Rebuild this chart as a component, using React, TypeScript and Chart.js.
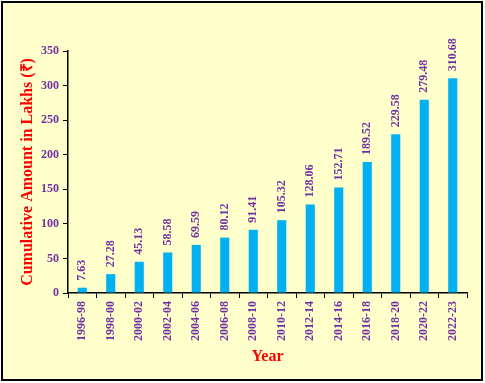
import React, { useEffect, useRef } from "react";
import { Chart, registerables } from "chart.js";

Chart.register(...registerables);

const categories = [
  "1996-98", "1998-00", "2000-02", "2002-04", "2004-06", "2006-08", "2008-10",
  "2010-12", "2012-14", "2014-16", "2016-18", "2018-20", "2020-22", "2022-23",
];
const amounts = [7.63, 27.28, 45.13, 58.58, 69.59, 80.12, 91.41, 105.32, 128.06, 152.71, 189.52, 229.58, 279.48, 310.68];
const yTitle = "Cumulative Amount in Lakhs (\u20B9)";
const xTitle = "Year";

const FONT = "'Liberation Serif', 'Times New Roman', serif";
const PURPLE = "#7030A0";

const framePlugin = {
  id: "frame",
  beforeDraw(chart: any) {
    const ctx = chart.ctx;
    ctx.save();
    ctx.fillStyle = "#FFFFFF";
    ctx.fillRect(0, 0, chart.width, chart.height);
    ctx.fillStyle = "#FFFFCC";
    ctx.fillRect(2, 2, 480, 378);
    ctx.strokeStyle = "#000000";
    ctx.lineWidth = 2;
    ctx.strokeRect(2, 2, 480, 378);
    ctx.restore();
  },
};

const labelPlugin = {
  id: "barLabels",
  afterDatasetsDraw(chart: any) {
    const ctx = chart.ctx;
    const meta = chart.getDatasetMeta(0);
    ctx.save();
    ctx.fillStyle = PURPLE;
    ctx.font = `bold 12px ${FONT}`;
    ctx.textAlign = "left";
    ctx.textBaseline = "middle";
    meta.data.forEach((bar: any, i: number) => {
      ctx.save();
      ctx.translate(bar.x, bar.y - 7);
      ctx.rotate(-Math.PI / 2);
      ctx.fillText(amounts[i].toFixed(2), 0, 0);
      ctx.restore();
    });
    ctx.restore();
  },
};

export default function App() {
  const ref = useRef<HTMLCanvasElement>(null);
  useEffect(() => {
    const chart = new Chart(ref.current as HTMLCanvasElement, {
      type: "bar",
      data: {
        labels: categories,
        datasets: [
          {
            data: amounts,
            backgroundColor: "#00B0F0",
            barPercentage: 0.32,
            categoryPercentage: 1,
          },
        ],
      },
      options: {
        animation: false,
        responsive: false,
        layout: { padding: { left: 0, right: 18, top: 51, bottom: 0 } },
        plugins: { legend: { display: false }, tooltip: { enabled: false } },
        scales: {
          x: {
            afterFit: (s: any) => { s.height = 90; },
            grid: { drawOnChartArea: false, drawTicks: true, tickLength: 5, color: "#000", offset: true },
            border: { color: "#000", width: 1.5 },
            ticks: {
              color: PURPLE,
              font: { family: FONT, size: 12, weight: "bold" },
              minRotation: 90,
              maxRotation: 90,
              padding: 3,
              autoSkip: false,
            },
            title: {
              display: true,
              text: xTitle,
              color: "#FF0000",
              font: { family: FONT, size: 16, weight: "bold" },
              padding: { top: 0, bottom: 17 },
            },
          },
          y: {
            min: 0,
            max: 350,
            afterFit: (s: any) => { s.width = 68; },
            grid: { drawOnChartArea: false, drawTicks: true, tickLength: 5, color: "#000" },
            border: { color: "#000", width: 1.5 },
            ticks: {
              stepSize: 50,
              color: PURPLE,
              font: { family: FONT, size: 12, weight: "bold" },
              padding: 4,
            },
            title: {
              display: true,
              text: yTitle,
              color: "#FF0000",
              font: { family: FONT, size: 16, weight: "bold" },
              padding: { top: 18, bottom: 0 },
            },
          },
        },
      },
      plugins: [framePlugin, labelPlugin],
    });
    return () => chart.destroy();
  }, []);
  return (
    <div style={{ position: "absolute", left: 0, top: 0, width: 485, height: 383 }}>
      <canvas ref={ref} width={485} height={383} style={{ display: "block" }} />
    </div>
  );
}
